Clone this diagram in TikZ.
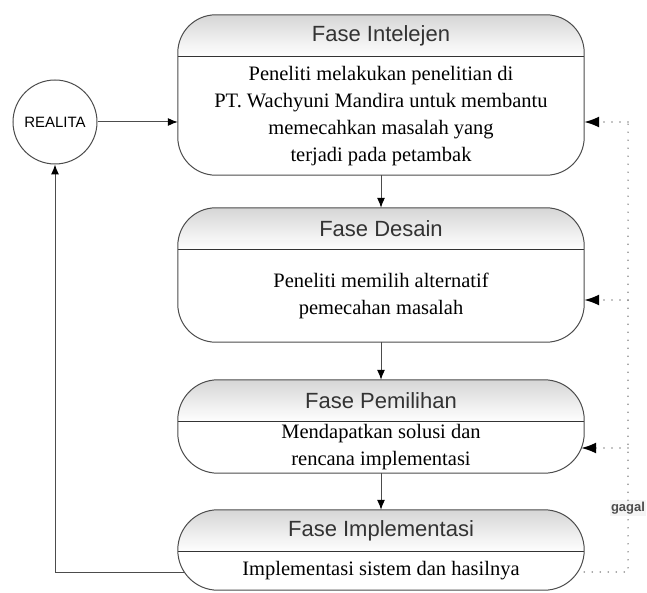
\documentclass[tikz,border=0pt]{standalone}
\usepackage{fontspec}
\setmainfont{Liberation Serif}
\setsansfont{Liberation Sans}
\usetikzlibrary{positioning, arrows.meta, calc}

\tikzset{
  phase/.style={minimum width=406pt, inner sep=0pt},
  head/.style={font=\sffamily\fontsize{22}{26}\selectfont, text=black!80},
  body/.style={align=center, font=\fontsize{20.5}{27}\selectfont},
  flow/.style={-{Latex[length=10pt,width=8pt,black]}, line width=1pt, black!70},
  back/.style={draw=black!45, line width=1.6pt, line cap=round,
    dash pattern=on 0pt off 8pt},
  backtip/.style={back, -{Latex[length=15pt,width=11pt,black]}}
}

% outline with round ends, shaded head of 42pt
\newcommand{\phasebox}[2]{%
  \begin{scope}
    \clip ([xshift=#2]#1.north west) -- ([xshift=-#2]#1.north east)
      arc[start angle=90, end angle=0, radius=#2] -- ([yshift=#2]#1.south east)
      arc[start angle=0, end angle=-90, radius=#2] -- ([xshift=#2]#1.south west)
      arc[start angle=270, end angle=180, radius=#2] -- ([yshift=-#2]#1.north west)
      arc[start angle=180, end angle=90, radius=#2] -- cycle;
    \shade[top color=black!16, bottom color=white]
      (#1.north west) rectangle ([yshift=-42pt]#1.north east);
  \end{scope}
  \draw[line width=1pt, black!80]
    ([yshift=-42pt]#1.north west) -- ([yshift=-42pt]#1.north east);
  \draw[line width=1pt, black!70]
    ([xshift=#2]#1.north west) -- ([xshift=-#2]#1.north east)
    arc[start angle=90, end angle=0, radius=#2] -- ([yshift=#2]#1.south east)
    arc[start angle=0, end angle=-90, radius=#2] -- ([xshift=#2]#1.south west)
    arc[start angle=270, end angle=180, radius=#2] -- ([yshift=-#2]#1.north west)
    arc[start angle=180, end angle=90, radius=#2] -- cycle;
}

\begin{document}
\begin{tikzpicture}[x=1pt, y=1pt]
  \useasboundingbox (0,0) rectangle (647,592);

  \node[draw=black!70, line width=1pt, circle, minimum size=84pt, inner sep=0pt,
        font=\sffamily\fontsize{15}{18}\selectfont] (realita) at (55,470) {REALITA};

  % phase boxes
  \node[phase, minimum height=160pt] (intel) at (381,497) {};
  \node[phase, minimum height=134pt] (desain) at (381,317) {};
  \node[phase, minimum height=93pt] (pilih) at (381,165.5) {};
  \node[phase, minimum height=80pt] (impl) at (381,42) {};
  \phasebox{intel}{38pt}
  \phasebox{desain}{38pt}
  \phasebox{pilih}{40pt}
  \phasebox{impl}{40pt}

  \node[head] (intel head) at ([yshift=-21pt]intel.north) {Fase Intelejen};
  \node[head] (desain head) at ([yshift=-21pt]desain.north) {Fase Desain};
  \node[head] (pilih head) at ([yshift=-21pt]pilih.north) {Fase Pemilihan};
  \node[head] (impl head) at ([yshift=-21pt]impl.north) {Fase Implementasi};

  \node[body] (intel text) at ($(intel.south)!0.5!([yshift=-42pt]intel.north)$)
    {Peneliti melakukan penelitian di\\ PT. Wachyuni Mandira untuk membantu\\
     memecahkan masalah yang\\ terjadi pada petambak};
  \node[body] (desain text) at ($(desain.south)!0.5!([yshift=-42pt]desain.north)$)
    {Peneliti memilih alternatif\\ pemecahan masalah};
  \node[body] (pilih text) at ($(pilih.south)!0.5!([yshift=-42pt]pilih.north)$)
    {Mendapatkan solusi dan\\ rencana implementasi};
  \node[body] (impl text) at ($(impl.south)!0.5!([yshift=-42pt]impl.north)$)
    {Implementasi sistem dan hasilnya};

  \draw[flow] (realita) -- (realita -| intel.west);
  \draw[flow] (intel) -- (desain);
  \draw[flow] (desain) -- (pilih);
  \draw[flow] (pilih) -- (impl);

  % gagal loop
  \coordinate (g1) at (628,470);
  \coordinate (g2) at (628,292);
  \coordinate (g3) at (628,144);
  \coordinate (g4) at (628,20);
  \node[fill=black!4, inner sep=1.5pt, text=black!70,
        font=\sffamily\bfseries\fontsize{13}{15}\selectfont] (gagal) at (628,84) {gagal};

  \draw[back] (impl.east |- g4) -- (g4) -- (gagal);
  \draw[back] (gagal) -- (g1);
  \draw[backtip] (g1) -- (g1 -| intel.east);
  \draw[backtip] (g2) -- (g2 -| desain.east);
  \draw[backtip] (g3) -- ([xshift=-3pt]g3 -| pilih.east);

  \draw[flow] ([xshift=6pt]impl.west |- g4) -| (realita);
\end{tikzpicture}
\end{document}
